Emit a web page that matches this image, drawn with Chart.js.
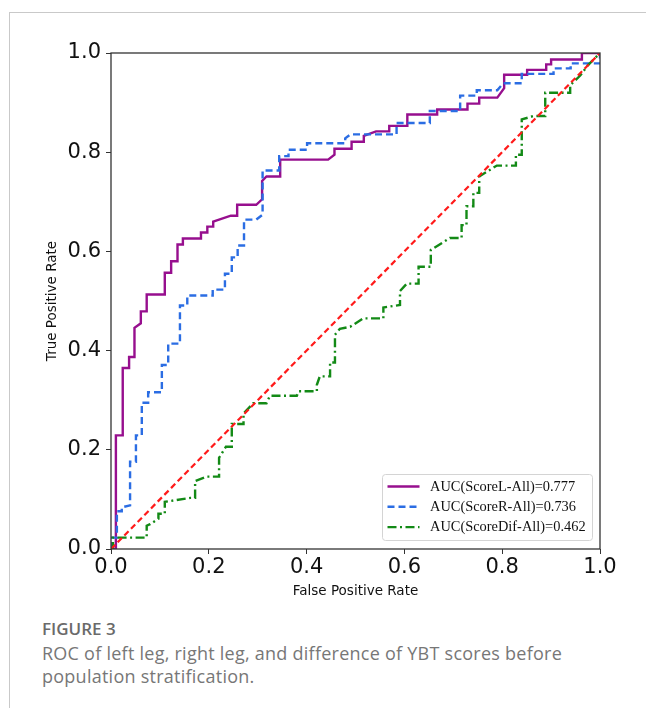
<!DOCTYPE html>
<html>
<head>
<meta charset="utf-8">
<script src="https://cdn.jsdelivr.net/npm/chart.js@4.4.1/dist/chart.umd.min.js"></script>
<style>
  body { margin: 0; background: #fff; width: 646px; height: 708px; overflow: hidden; position: relative; }
  .card { position: absolute; left: 9px; top: 12px; right: 0; bottom: 0; border-left: 1px solid #c9c9c9; border-top: 1px solid #c9c9c9; }
  #wrap { position: absolute; left: 0; top: 0; width: 646px; height: 600px; }
  .caption { position: absolute; left: 42px; top: 619px; font-family: "Open Sans", Lato, sans-serif; color: #777; }
  .caption .fig { font-size: 17px; line-height: 20px; font-weight: 600; color: #6a6a6a; }
  .caption .txt { font-size: 18px; line-height: 22.5px; letter-spacing: 0.25px; margin-top: 3px; white-space: nowrap; }
</style>
</head>
<body>
<div class="card"></div>
<div id="wrap"><canvas id="roc"></canvas></div>
<div class="caption">
  <div class="fig">FIGURE 3</div>
  <div class="txt">ROC of left leg, right leg, and difference of YBT scores before<br>population stratification.</div>
</div>
<script>
// ROC curve corners
var fprL = [0, 0.010, 0.010, 0.024, 0.024, 0.037, 0.037, 0.048, 0.048, 0.061, 0.061, 0.073, 0.073, 0.110, 0.110, 0.123, 0.123, 0.136, 0.136, 0.147, 0.147, 0.184, 0.184, 0.197, 0.197, 0.209, 0.209, 0.245, 0.258, 0.258, 0.297, 0.309, 0.309, 0.318, 0.346, 0.346, 0.444, 0.457, 0.457, 0.492, 0.492, 0.517, 0.517, 0.542, 0.569, 0.569, 0.606, 0.606, 0.667, 0.667, 0.729, 0.729, 0.753, 0.753, 0.790, 0.804, 0.804, 0.851, 0.851, 0.890, 0.890, 0.900, 0.900, 0.963, 0.963, 1.0];
var tprL = [0, 0, 0.229, 0.229, 0.365, 0.365, 0.387, 0.387, 0.446, 0.455, 0.479, 0.479, 0.513, 0.513, 0.557, 0.557, 0.580, 0.580, 0.614, 0.614, 0.626, 0.626, 0.638, 0.638, 0.650, 0.650, 0.660, 0.672, 0.672, 0.694, 0.694, 0.705, 0.742, 0.751, 0.751, 0.785, 0.785, 0.795, 0.807, 0.807, 0.821, 0.821, 0.833, 0.842, 0.842, 0.853, 0.853, 0.876, 0.876, 0.886, 0.886, 0.898, 0.898, 0.910, 0.910, 0.929, 0.956, 0.956, 0.966, 0.966, 0.977, 0.977, 0.987, 0.987, 1.0, 1.0];

var fprR = [0, 0, 0.012, 0.012, 0.022, 0.022, 0.039, 0.039, 0.051, 0.051, 0.063, 0.063, 0.076, 0.076, 0.104, 0.104, 0.117, 0.117, 0.141, 0.141, 0.156, 0.156, 0.208, 0.208, 0.233, 0.233, 0.247, 0.247, 0.259, 0.259, 0.272, 0.272, 0.297, 0.310, 0.310, 0.344, 0.344, 0.363, 0.363, 0.401, 0.401, 0.479, 0.479, 0.490, 0.584, 0.584, 0.652, 0.652, 0.714, 0.714, 0.748, 0.748, 0.790, 0.802, 0.840, 0.840, 0.905, 0.905, 0.940, 0.940, 1.0, 1.0];
var tprR = [0, 0.023, 0.023, 0.076, 0.076, 0.084, 0.088, 0.176, 0.176, 0.229, 0.229, 0.295, 0.295, 0.316, 0.316, 0.371, 0.371, 0.414, 0.414, 0.491, 0.491, 0.511, 0.511, 0.523, 0.523, 0.555, 0.555, 0.588, 0.588, 0.612, 0.612, 0.664, 0.664, 0.674, 0.763, 0.763, 0.792, 0.792, 0.805, 0.805, 0.818, 0.818, 0.828, 0.836, 0.836, 0.859, 0.859, 0.883, 0.883, 0.914, 0.914, 0.925, 0.925, 0.939, 0.939, 0.958, 0.958, 0.969, 0.969, 0.979, 0.979, 1.0];

var fprDif = [0, 0.004, 0.004, 0.073, 0.073, 0.080, 0.097, 0.097, 0.110, 0.110, 0.162, 0.172, 0.172, 0.196, 0.221, 0.221, 0.235, 0.247, 0.247, 0.271, 0.271, 0.291, 0.318, 0.325, 0.380, 0.384, 0.421, 0.421, 0.427, 0.448, 0.448, 0.458, 0.458, 0.468, 0.489, 0.516, 0.557, 0.557, 0.591, 0.591, 0.605, 0.629, 0.629, 0.654, 0.654, 0.693, 0.717, 0.717, 0.727, 0.727, 0.741, 0.741, 0.753, 0.753, 0.789, 0.828, 0.828, 0.840, 0.840, 0.864, 0.888, 0.888, 0.939, 0.939, 0.960, 0.975, 0.990, 1.0];
var tprDif = [0, 0, 0.023, 0.023, 0.047, 0.050, 0.061, 0.071, 0.071, 0.095, 0.103, 0.103, 0.137, 0.146, 0.146, 0.184, 0.206, 0.206, 0.252, 0.252, 0.273, 0.294, 0.294, 0.309, 0.309, 0.318, 0.318, 0.331, 0.348, 0.348, 0.376, 0.376, 0.432, 0.444, 0.448, 0.465, 0.465, 0.487, 0.492, 0.520, 0.535, 0.535, 0.569, 0.569, 0.603, 0.627, 0.627, 0.653, 0.653, 0.691, 0.691, 0.718, 0.718, 0.751, 0.773, 0.773, 0.795, 0.795, 0.866, 0.873, 0.873, 0.920, 0.920, 0.935, 0.955, 0.975, 0.990, 1.0];

var chanceX = [0, 1];
var chanceY = [0, 1];

var seriesLabels = ['AUC(ScoreL-All)=0.777', 'AUC(ScoreR-All)=0.736', 'AUC(ScoreDif-All)=0.462'];
var tickValues = [0, 0.2, 0.4, 0.6, 0.8, 1.0];

function toPoints(xs, ys) {
  return xs.map(function(x, i) { return { x: x, y: ys[i] }; });
}

// frame round the plot, drawn over the curves like matplotlib spines
var frame = {
  id: 'frame',
  afterDatasetsDraw: function(chart) {
    var a = chart.chartArea, ctx = chart.ctx;
    ctx.save();
    ctx.strokeStyle = '#333';
    ctx.lineWidth = 1.3;
    ctx.strokeRect(a.left, a.top, a.right - a.left, a.bottom - a.top);
    ctx.restore();
  }
};

// legend box in the lower right corner of the plot
var cornerLegend = {
  id: 'cornerLegend',
  afterDraw: function(chart) {
    var a = chart.chartArea, ctx = chart.ctx;
    var items = chart.data.datasets.filter(function(d) { return d.label; });
    var w = 210, h = 66;
    var left = a.right - 7.5 - w, top = a.bottom - 8.5 - h;
    ctx.save();
    ctx.fillStyle = 'rgba(255,255,255,0.85)';
    ctx.strokeStyle = '#d4d4d4';
    ctx.lineWidth = 1;
    ctx.beginPath();
    ctx.roundRect(left, top, w, h, 3);
    ctx.fill();
    ctx.stroke();
    ctx.font = '14.4px "Liberation Serif", "Times New Roman", serif';
    ctx.textBaseline = 'middle';
    items.forEach(function(d, i) {
      var y = top + 12 + i * 20.3;
      ctx.strokeStyle = d.borderColor;
      ctx.lineWidth = d.borderWidth;
      ctx.setLineDash(d.borderDash || []);
      ctx.beginPath();
      ctx.moveTo(left + 5, y);
      ctx.lineTo(left + 37, y);
      ctx.stroke();
      ctx.setLineDash([]);
      ctx.fillStyle = '#111';
      ctx.fillText(d.label, left + 47.5, y + 0.5);
    });
    ctx.restore();
  }
};

var tickFont = { family: '"DejaVu Sans", sans-serif', size: 21 };
var titleFont = { family: '"DejaVu Sans", sans-serif', size: 13.5 };

new Chart(document.getElementById('roc'), {
  type: 'scatter',
  data: {
    datasets: [{
      label: seriesLabels[0],
      data: toPoints(fprL, tprL),
      showLine: true,
      borderColor: '#970f8e',
      borderWidth: 2.4,
      pointRadius: 0,
      order: 3
    }, {
      label: seriesLabels[1],
      data: toPoints(fprR, tprR),
      showLine: true,
      borderColor: '#2b6de3',
      borderWidth: 2.4,
      borderDash: [7, 4],
      pointRadius: 0,
      order: 2
    }, {
      label: seriesLabels[2],
      data: toPoints(fprDif, tprDif),
      showLine: true,
      borderColor: '#138a16',
      borderWidth: 2.4,
      borderDash: [9, 3.5, 2, 3.5],
      pointRadius: 0,
      order: 1
    }, {
      data: toPoints(chanceX, chanceY),
      showLine: true,
      borderColor: '#ff1a1a',
      borderWidth: 2.2,
      borderDash: [6, 3.5],
      pointRadius: 0,
      order: 0
    }]
  },
  options: {
    responsive: true,
    maintainAspectRatio: false,
    animation: false,
    layout: { padding: { top: 53, right: 46, left: 44, bottom: 0 } },
    plugins: { legend: { display: false }, tooltip: { enabled: false } },
    scales: {
      x: {
        type: 'linear', min: 0, max: 1,
        afterFit: function(s) { s.height = 51; },
        afterBuildTicks: function(s) { s.ticks = tickValues.map(function(v) { return { value: v }; }); },
        ticks: { font: tickFont, color: '#111', padding: 1, maxRotation: 0,
                 callback: function(v) { return v.toFixed(1); } },
        grid: { drawOnChartArea: false, drawTicks: true, tickLength: 5, color: '#333' },
        border: { display: false },
        title: { display: true, text: 'False Positive Rate', font: titleFont, color: '#111', padding: 0 }
      },
      y: {
        type: 'linear', min: 0, max: 1,
        afterFit: function(s) { s.width = 67; },
        afterBuildTicks: function(s) { s.ticks = tickValues.map(function(v) { return { value: v }; }); },
        ticks: { font: tickFont, color: '#111', padding: 5,
                 callback: function(v) { return v.toFixed(1); } },
        grid: { drawOnChartArea: false, drawTicks: true, tickLength: 5, color: '#333' },
        border: { display: false },
        title: { display: true, text: 'True Positive Rate', font: titleFont, color: '#111', padding: 0 }
      }
    }
  },
  plugins: [frame, cornerLegend]
});
</script>
</body>
</html>
